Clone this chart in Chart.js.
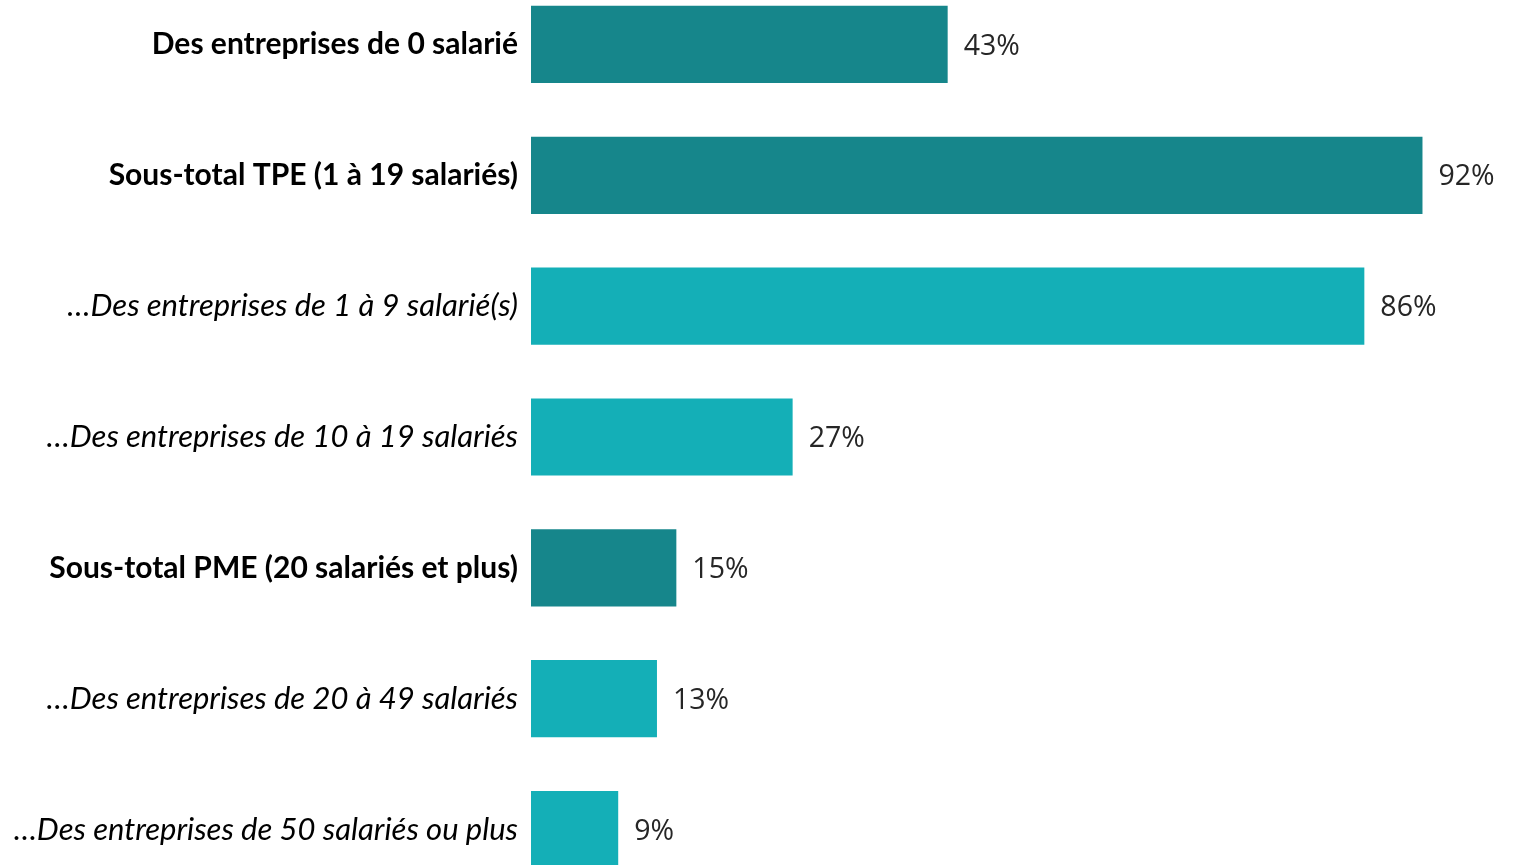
<!DOCTYPE html>
<html lang="fr">
<head>
    <meta charset="UTF-8">
    <title>Part des entreprises</title>
    <script src="https://cdn.jsdelivr.net/npm/chart.js"></script>
    <style>
        body { margin: 0; overflow: hidden; background: #fff; }
        #graphique { position: absolute; left: 0; top: -21px; }
    </style>
</head>
<body>
    <canvas id="graphique" width="1513" height="916"></canvas>

    <script>
        // Catégories et valeurs (%)
        const categories = [
            'Des entreprises de 0 salarié',
            'Sous-total TPE (1 à 19 salariés)',
            '…Des entreprises de 1 à 9 salarié(s)',
            '…Des entreprises de 10 à 19 salariés',
            'Sous-total PME (20 salariés et plus)',
            '…Des entreprises de 20 à 49 salariés',
            '…Des entreprises de 50 salariés ou plus'
        ];
        const valeurs = [43, 92, 86, 27, 15, 13, 9];
        const estSousTotal = [true, true, false, false, true, false, false];

        const FONCE = '#16868B';
        const CLAIR = '#14AFB7';

        // Étiquettes de valeur à droite des barres
        const etiquettes = {
            id: 'etiquettes',
            afterDatasetsDraw(chart) {
                const ctx = chart.ctx;
                const meta = chart.getDatasetMeta(0);
                ctx.save();
                ctx.font = '28.5px "Open Sans"';
                ctx.fillStyle = '#262626';
                ctx.textBaseline = 'middle';
                ctx.textAlign = 'left';
                meta.data.forEach((bar, i) => {
                    ctx.fillText(valeurs[i] + '%', bar.x + 16, bar.y + 2);
                });
                ctx.restore();
            }
        };

        const ctx = document.getElementById('graphique').getContext('2d');
        new Chart(ctx, {
            type: 'bar',
            data: {
                labels: categories,
                datasets: [{
                    data: valeurs,
                    backgroundColor: estSousTotal.map(s => s ? FONCE : CLAIR),
                    barPercentage: 0.59,
                    categoryPercentage: 1
                }]
            },
            options: {
                indexAxis: 'y',
                responsive: false,
                animation: false,
                layout: { padding: { left: 0, right: 13, top: 0, bottom: 0 } },
                plugins: {
                    legend: { display: false },
                    tooltip: { enabled: false }
                },
                scales: {
                    x: {
                        display: false,
                        min: 0,
                        max: 100
                    },
                    y: {
                        grid: { display: false, drawTicks: false },
                        border: { display: false },
                        afterFit(scale) {
                            scale.width = 531;
                            scale.paddingTop = 0;
                            scale.paddingBottom = 0;
                        },
                        ticks: {
                            padding: 13,
                            color: '#000',
                            font: (c) => ({
                                family: 'Lato',
                                size: estSousTotal[c.index] ? 30 : 31,
                                weight: estSousTotal[c.index] ? 'bold' : 'normal',
                                style: estSousTotal[c.index] ? 'normal' : 'italic'
                            })
                        }
                    }
                }
            },
            plugins: [etiquettes]
        });
    </script>
</body>
</html>
